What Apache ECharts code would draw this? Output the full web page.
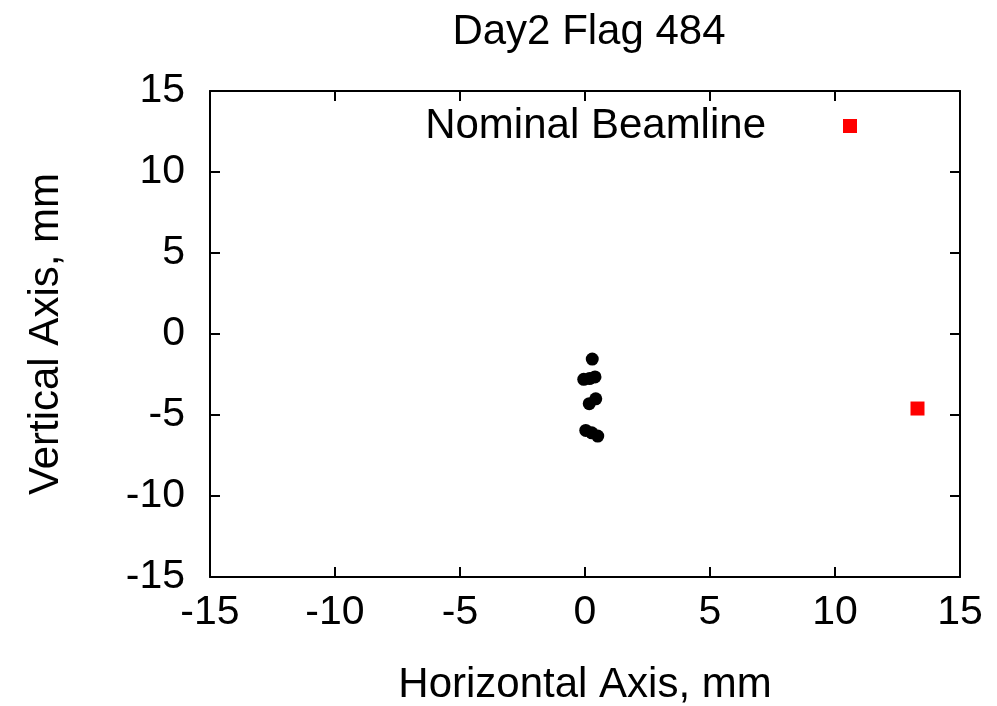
<!DOCTYPE html>
<html>
<head>
<meta charset="utf-8">
<script src="https://cdn.jsdelivr.net/npm/echarts@6/dist/echarts.min.js"></script>
<style>
  html, body { margin: 0; padding: 0; background: #fff; }
  #chart { width: 997px; height: 706px; }
</style>
</head>
<body>
<div id="chart"></div>
<script>
// 数据
const measX = [0.29, -0.05, 0.18, 0.4, 0.17, 0.43, 0.03, 0.27, 0.51];
const measY = [-1.55, -2.8, -2.75, -2.65, -4.3, -4.0, -5.95, -6.1, -6.3];
const beamX = [13.3];
const beamY = [-4.6];
const axisTicks = [-15, -10, -5, 0, 5, 10, 15];

const font = "Liberation Sans, Arial, Helvetica, sans-serif";
var myChart = echarts.init(document.getElementById("chart"));

function axisBase(showLabel) {
  return {
    type: "value",
    min: axisTicks[0],
    max: axisTicks[axisTicks.length - 1],
    interval: 5,
    splitLine: { show: false },
    axisLine: { show: true, onZero: false, lineStyle: { color: "#000", width: 2 } },
    axisTick: { show: true, inside: true, length: 10, lineStyle: { color: "#000", width: 2 } },
    axisLabel: { show: showLabel, color: "#000", fontSize: 41, fontFamily: font },
  };
}

var option = {
  animation: false,
  title: {
    text: "Day2 Flag 484",
    left: 584,
    textAlign: "center",
    top: 6,
    textStyle: { fontSize: 42, fontWeight: "normal", color: "#000", fontFamily: font },
  },
  legend: {
    data: [{ name: "Nominal Beamline", icon: "rect" }],
    right: 135,
    top: 100,
    align: "right",
    itemWidth: 14,
    itemHeight: 14,
    textStyle: { fontSize: 42, color: "#000", fontFamily: font, padding: [0, 72, 0, 0] },
  },
  grid: { left: 210, right: 37, top: 91, bottom: 129, outerBoundsMode: "none" },
  xAxis: [
    Object.assign(axisBase(true), {
      position: "bottom",
      name: "Horizontal Axis, mm",
      nameLocation: "middle",
      nameGap: 87,
      nameTextStyle: { fontSize: 42, color: "#000", fontFamily: font },
      axisLabel: { color: "#000", fontSize: 41, fontFamily: font, margin: 15 },
    }),
    Object.assign(axisBase(false), { position: "top" }),
  ],
  yAxis: [
    Object.assign(axisBase(true), {
      position: "left",
      name: "Vertical Axis, mm",
      nameLocation: "middle",
      nameGap: 143,
      nameTextStyle: { fontSize: 42, color: "#000", fontFamily: font },
      axisLabel: { color: "#000", fontSize: 41, fontFamily: font, margin: 25 },
    }),
    Object.assign(axisBase(false), { position: "right" }),
  ],
  series: [
    {
      name: "Measured",
      type: "scatter",
      xAxisIndex: 0,
      yAxisIndex: 0,
      symbol: "circle",
      symbolSize: 13,
      itemStyle: { color: "#000", opacity: 1 },
      data: measX.map((x, i) => [x, measY[i]]),
    },
    {
      name: "Nominal Beamline",
      type: "scatter",
      xAxisIndex: 0,
      yAxisIndex: 0,
      symbol: "rect",
      symbolSize: 14,
      itemStyle: { color: "#ff0000", opacity: 1 },
      data: beamX.map((x, i) => [x, beamY[i]]),
    },
  ],
};

option && myChart.setOption(option);
</script>
</body>
</html>
